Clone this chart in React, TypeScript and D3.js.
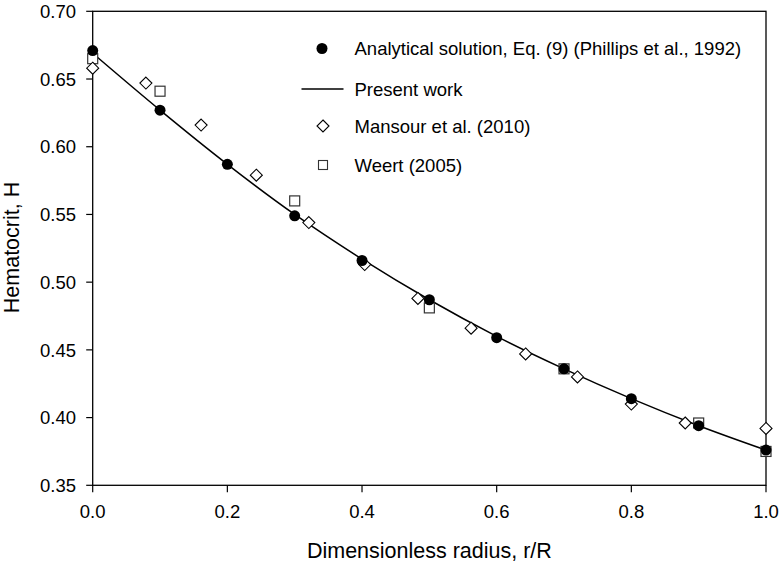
import React from "react";
import * as d3 from "d3";

const analyticalX = [0, 0.1, 0.2, 0.3, 0.4, 0.5, 0.6, 0.7, 0.8, 0.9, 1.0];
const analyticalH = [0.671, 0.627, 0.587, 0.549, 0.516, 0.487, 0.459, 0.436, 0.414, 0.394, 0.376];

const presentX = [0, 0.1, 0.2, 0.3, 0.4, 0.5, 0.6, 0.7, 0.8, 0.9, 1.0];
const presentH = [0.669, 0.627, 0.587, 0.550, 0.517, 0.487, 0.460, 0.436, 0.414, 0.394, 0.376];

const mansourX = [0, 0.079, 0.161, 0.243, 0.321, 0.404, 0.483, 0.562, 0.643, 0.72, 0.8, 0.88, 1.0];
const mansourH = [0.658, 0.647, 0.616, 0.579, 0.544, 0.513, 0.488, 0.466, 0.447, 0.430, 0.410, 0.396, 0.392];

const weertX = [0, 0.1, 0.3, 0.5, 0.7, 0.9, 1.0];
const weertH = [0.665, 0.641, 0.560, 0.481, 0.436, 0.396, 0.375];

const xTicks = [0, 0.2, 0.4, 0.6, 0.8, 1.0];
const yTicks = [0.35, 0.40, 0.45, 0.50, 0.55, 0.60, 0.65, 0.70];

const legendLabels = [
  "Analytical solution, Eq. (9) (Phillips et al., 1992)",
  "Present work",
  "Mansour et al. (2010)",
  "Weert (2005)",
];

const FONT = "Arial, 'Liberation Sans', sans-serif";

export default function App() {
  const left = 92.7, right = 766, top = 11.3, bottom = 485.3;
  const x = d3.scaleLinear().domain([0, 1]).range([left, right]);
  const y = d3.scaleLinear().domain([0.35, 0.7]).range([bottom, top]);

  const line = d3
    .line<number>()
    .x((_, i) => x(presentX[i]))
    .y((d) => y(d))
    .curve(d3.curveMonotoneX);

  const diamond = (cx: number, cy: number, r: number) =>
    `M${cx},${cy - r}L${cx + r},${cy}L${cx},${cy + r}L${cx - r},${cy}Z`;

  const legendRows = [48.5, 89, 126, 165];
  const legX = 322;

  return (
    <svg
      width={781}
      height={567}
      style={{ position: "absolute", left: 0, top: 0, background: "#fff" }}
      fontFamily={FONT}
    >
      <rect x={0} y={0} width={781} height={567} fill="#fff" />
      {/* frame */}
      <rect x={left} y={top} width={right - left} height={bottom - top} fill="none" stroke="#000" strokeWidth={1.3} />
      {/* x ticks */}
      {xTicks.map((t) => (
        <g key={"x" + t}>
          <line x1={x(t)} x2={x(t)} y1={bottom} y2={bottom + 7} stroke="#000" strokeWidth={1.2} />
          <text x={x(t)} y={518} textAnchor="middle" fontSize={18.5} fill="#000">
            {t.toFixed(1)}
          </text>
        </g>
      ))}
      {/* y ticks */}
      {yTicks.map((t) => (
        <g key={"y" + t}>
          <line x1={left - 6.5} x2={left} y1={y(t)} y2={y(t)} stroke="#000" strokeWidth={1.2} />
          <text x={76} y={y(t) + 6.7} textAnchor="end" fontSize={18.5} fill="#000">
            {t.toFixed(2)}
          </text>
        </g>
      ))}
      {/* axis titles */}
      <text x={429.4} y={558} textAnchor="middle" fontSize={21.5} fill="#000">
        Dimensionless radius, r/R
      </text>
      <text
        transform={`translate(18.5,247.5) rotate(-90)`}
        textAnchor="middle"
        fontSize={21.5}
        fill="#000"
      >
        Hematocrit, H
      </text>

      {/* present work line */}
      <path d={line(presentH) || ""} fill="none" stroke="#000" strokeWidth={1.5} />

      {/* Weert squares */}
      {weertH.map((h, i) => (
        <rect
          key={"w" + i}
          x={x(weertX[i]) - 5}
          y={y(h) - 5}
          width={10}
          height={10}
          fill="#fff"
          stroke="#333"
          strokeWidth={1.2}
        />
      ))}
      {/* Mansour diamonds */}
      {mansourH.map((h, i) => (
        <path key={"m" + i} d={diamond(x(mansourX[i]), y(h), 6)} fill="#fff" stroke="#000" strokeWidth={1.1} />
      ))}
      {/* Analytical circles */}
      {analyticalH.map((h, i) => (
        <circle key={"a" + i} cx={x(analyticalX[i])} cy={y(h)} r={5.5} fill="#000" />
      ))}

      {/* legend */}
      <circle cx={legX} cy={legendRows[0]} r={5.5} fill="#000" />
      <line x1={301.5} x2={343.5} y1={legendRows[1]} y2={legendRows[1]} stroke="#000" strokeWidth={1.5} />
      <path d={diamond(legX + 1, legendRows[2], 6)} fill="#fff" stroke="#000" strokeWidth={1.1} />
      <rect x={legX + 1 - 4.5} y={legendRows[3] - 4.5} width={9} height={9} fill="#fff" stroke="#333" strokeWidth={1.1} />
      {legendLabels.map((lab, i) => (
        <text key={"l" + i} x={354.5} y={legendRows[i] + 6.5} fontSize={18.5} fill="#000">
          {lab}
        </text>
      ))}
    </svg>
  );
}
